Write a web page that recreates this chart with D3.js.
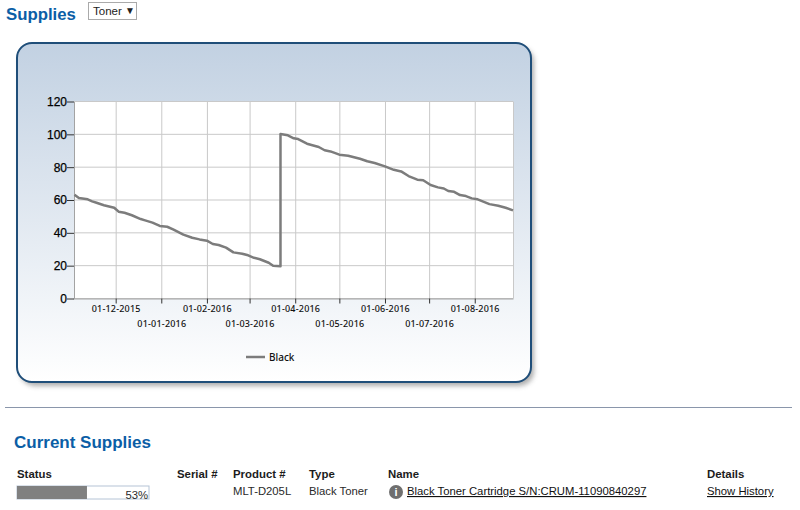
<!DOCTYPE html>
<html>
<head>
<meta charset="utf-8">
<script src="https://cdn.jsdelivr.net/npm/d3@7"></script>
<style>
html, body { margin: 0; padding: 0; background: #fff; overflow: hidden; }
text { font-family: "Liberation Sans", Arial, sans-serif; }
.title { fill: #0b5ea6; font-weight: bold; }
.head { font-size: 11.4px; font-weight: bold; fill: #1c1c1c; }
.cell { font-size: 11.3px; fill: #2a2a2a; }
.grid line { stroke: #c9c9c9; stroke-width: 1px; }
.axis path { stroke: #a3a3a3; stroke-width: 1px; fill: none; }
.axis line { stroke: #333; }
.xaxis text { font-family: "Noto Sans", sans-serif; font-size: 9px; font-weight: 500; letter-spacing: 0.2px; fill: #111; }
.yaxis text { font-size: 12px; fill: #000; stroke: #000; stroke-width: 0.25px; }
</style>
</head>
<body>
<div id="chart"></div>
<script>
// toner level readings
var dates = ["2015-11-03", "2015-11-06", "2015-11-12", "2015-11-15", "2015-11-18", "2015-11-23",
  "2015-11-30", "2015-12-03", "2015-12-07", "2015-12-12", "2015-12-18", "2015-12-21",
  "2015-12-26", "2015-12-31", "2016-01-05", "2016-01-09", "2016-01-16", "2016-01-22",
  "2016-01-27", "2016-02-01", "2016-02-05", "2016-02-09", "2016-02-14", "2016-02-19",
  "2016-02-25", "2016-02-29", "2016-03-04", "2016-03-08", "2016-03-14", "2016-03-17",
  "2016-03-22", "2016-03-22", "2016-03-27", "2016-03-31", "2016-04-03", "2016-04-09",
  "2016-04-17", "2016-04-21", "2016-04-25", "2016-05-01", "2016-05-07", "2016-05-15",
  "2016-05-20", "2016-05-25", "2016-06-01", "2016-06-07", "2016-06-12", "2016-06-17",
  "2016-06-23", "2016-06-27", "2016-07-02", "2016-07-07", "2016-07-11", "2016-07-14",
  "2016-07-18", "2016-07-22", "2016-07-26", "2016-07-30", "2016-08-03", "2016-08-11",
  "2016-08-17", "2016-08-22", "2016-08-27"];
var black = [63.2, 61.2, 60.4, 59.2, 58.3, 56.8,
  55.3, 52.9, 52.2, 50.7, 48.4, 47.6,
  46.2, 44.2, 43.7, 42.1, 38.9, 37,
  36, 35.2, 33.2, 32.6, 31, 28.1,
  27.3, 26.3, 24.8, 23.9, 21.8, 20,
  19.6, 100.2, 99.4, 97.6, 97.1, 94.3,
  92.3, 90.3, 89.6, 87.6, 87, 85.1,
  83.6, 82.5, 80.5, 78.4, 77.4, 74.6,
  72.4, 72, 69.1, 67.7, 67, 65.5,
  65, 63, 62.4, 61, 60.4, 57.5,
  56.5, 55.3, 53.7];
var tick_dates = ["2015-12-01", "2016-01-01", "2016-02-01", "2016-03-01", "2016-04-01",
  "2016-05-01", "2016-06-01", "2016-07-01", "2016-08-01"];
var tick_labels = ["01-12-2015", "01-01-2016", "01-02-2016", "01-03-2016", "01-04-2016",
  "01-05-2016", "01-06-2016", "01-07-2016", "01-08-2016"];
var y_ticks = [0, 20, 40, 60, 80, 100, 120];
var table_heads = ["Status", "Serial #", "Product #", "Type", "Name", "Details"];

var parse = d3.utcParse("%Y-%m-%d");
var svg = d3.select("#chart").append("svg")
    .attr("width", 800)
    .attr("height", 510)
    .style("display", "block");

var defs = svg.append("defs");
var grad = defs.append("linearGradient")
    .attr("id", "panelfill")
    .attr("x1", 0).attr("y1", 0).attr("x2", 0).attr("y2", 1);
grad.append("stop").attr("offset", "0%").attr("stop-color", "#c2d1e2");
grad.append("stop").attr("offset", "100%").attr("stop-color", "#ffffff");
var blur = defs.append("filter").attr("id", "shadow")
    .attr("x", "-5%").attr("y", "-5%").attr("width", "110%").attr("height", "110%");
blur.append("feGaussianBlur").attr("stdDeviation", 2.5);

// page header
svg.append("text").attr("class", "title")
    .attr("x", 6).attr("y", 20)
    .style("font-size", "16.8px")
    .text("Supplies");
svg.append("rect")
    .attr("x", 88.5).attr("y", 2.5).attr("width", 48).attr("height", 17)
    .attr("fill", "#fff").attr("stroke", "#aaa");
svg.append("text").attr("class", "cell")
    .attr("x", 93).attr("y", 15)
    .style("font-size", "11.5px").style("fill", "#222")
    .text("Toner");
svg.append("text").attr("class", "cell")
    .attr("x", 125).attr("y", 13.5)
    .style("font-size", "10px").style("fill", "#222")
    .text("▼");

// panel
svg.append("rect")
    .attr("x", 20).attr("y", 47).attr("width", 514).attr("height", 339).attr("rx", 15)
    .attr("fill", "#777").attr("opacity", 0.6)
    .attr("filter", "url(#shadow)");
svg.append("rect")
    .attr("x", 17).attr("y", 43).attr("width", 514).attr("height", 339).attr("rx", 15)
    .attr("fill", "url(#panelfill)")
    .attr("stroke", "#1f4e79").attr("stroke-width", 2);

var left = 74, right = 513, top_y = 101.5, bottom = 298.5;
var x = d3.scaleUtc()
    .domain([parse("2015-11-02"), parse("2016-08-27")])
    .range([left - 1, right]);
var y = d3.scaleLinear()
    .domain([0, 120])
    .range([bottom, top_y]);

svg.append("rect")
    .attr("x", left).attr("y", top_y).attr("width", right - left).attr("height", bottom - top_y)
    .attr("fill", "#fff");

// grid
var grid = svg.append("g").attr("class", "grid");
grid.selectAll("line.v").data(tick_dates).enter().append("line")
    .attr("class", "v")
    .attr("x1", d => x(parse(d)) + 0.5)
    .attr("x2", d => x(parse(d)) + 0.5)
    .attr("y1", top_y).attr("y2", bottom);
grid.selectAll("line.h").data(y_ticks).enter().append("line")
    .attr("class", "h")
    .attr("x1", left).attr("x2", right)
    .attr("y1", d => y(d)).attr("y2", d => y(d));
svg.append("line")
    .attr("x1", right + 0.5).attr("x2", right + 0.5)
    .attr("y1", top_y).attr("y2", bottom)
    .attr("stroke", "#c9c9c9");

// axes
var xaxis = svg.append("g")
    .attr("class", "axis xaxis")
    .attr("transform", "translate(0," + bottom + ")")
    .call(d3.axisBottom(x)
        .tickValues(tick_dates.map(parse))
        .tickFormat((d, i) => tick_labels[i])
        .tickSize(5)
        .tickSizeOuter(0));
xaxis.selectAll("text")
    .attr("y", (d, i) => i % 2 == 0 ? 7 : 22);

var yaxis = svg.append("g")
    .attr("class", "axis yaxis")
    .attr("transform", "translate(" + left + ",0)")
    .call(d3.axisLeft(y).tickValues(y_ticks).tickSize(7).tickSizeOuter(0));
yaxis.selectAll("text").attr("x", -7);

// series
var line = d3.line()
    .x((d, i) => x(parse(dates[i])))
    .y(d => y(d));
svg.append("path")
    .datum(black)
    .attr("fill", "none")
    .attr("stroke", "#7c7c7c")
    .attr("stroke-width", 2.5)
    .attr("stroke-linejoin", "round")
    .attr("d", line);

// legend
svg.append("line")
    .attr("x1", 246).attr("x2", 265).attr("y1", 357).attr("y2", 357)
    .attr("stroke", "#7c7c7c").attr("stroke-width", 2.5);
svg.append("text")
    .attr("x", 269).attr("y", 361)
    .style("font-family", '"Noto Sans", sans-serif')
    .style("font-size", "10px").style("font-weight", 500).style("fill", "#111")
    .text("Black");

// separator
svg.append("line")
    .attr("x1", 5).attr("x2", 792).attr("y1", 407.5).attr("y2", 407.5)
    .attr("stroke", "#8a96ab");

// current supplies table
svg.append("text").attr("class", "title")
    .attr("x", 14).attr("y", 448)
    .style("font-size", "17px")
    .text("Current Supplies");

var head_x = [17, 177, 233, 309, 388, 707];
svg.selectAll("text.head").data(table_heads).enter().append("text")
    .attr("class", "head")
    .attr("x", (d, i) => head_x[i]).attr("y", 478)
    .text(d => d);

var pct = 53;
var bar = d3.scaleLinear().domain([0, 100]).range([17, 149]);
svg.append("rect")
    .attr("x", 17).attr("y", 486).attr("width", 132).attr("height", 13)
    .attr("fill", "#fff").attr("stroke", "#b5c4d6");
svg.append("rect")
    .attr("x", 17).attr("y", 486).attr("width", bar(pct) - 17).attr("height", 13)
    .attr("fill", "#808080");
svg.append("text").attr("class", "cell")
    .attr("x", 148).attr("y", 499).attr("text-anchor", "end")
    .text(pct + "%");

svg.append("text").attr("class", "cell").attr("x", 233).attr("y", 495).text("MLT-D205L");
svg.append("text").attr("class", "cell").attr("x", 309).attr("y", 495).text("Black Toner");
svg.append("circle")
    .attr("cx", 396).attr("cy", 492).attr("r", 7)
    .attr("fill", "#6f6f6f");
svg.append("text")
    .attr("x", 396).attr("y", 496).attr("text-anchor", "middle")
    .style("font-size", "11px").style("font-weight", "bold").style("fill", "#fff")
    .text("i");
svg.append("text").attr("class", "cell")
    .attr("x", 407).attr("y", 495)
    .style("text-decoration", "underline").style("fill", "#111")
    .text("Black Toner Cartridge S/N:CRUM-11090840297");
svg.append("text").attr("class", "cell")
    .attr("x", 707).attr("y", 495)
    .style("text-decoration", "underline").style("fill", "#111")
    .text("Show History");
</script>
</body>
</html>
